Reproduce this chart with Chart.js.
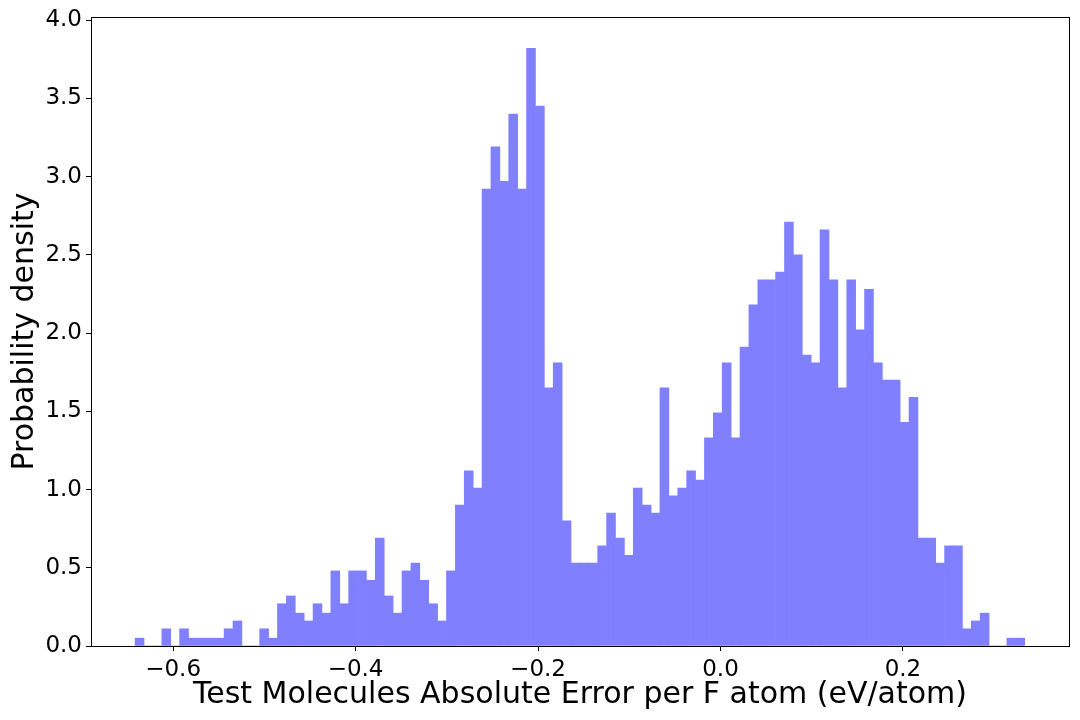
<!DOCTYPE html>
<html>
<head>
<meta charset="utf-8">
<script src="https://cdn.jsdelivr.net/npm/chart.js@4"></script>
<style>
  html, body { margin: 0; padding: 0; background: #fff; }
  #wrap { width: 1080px; height: 720px; }
</style>
</head>
<body>
<div id="wrap"><canvas id="chart" width="1080" height="720"></canvas></div>
<script>
// Histogram of per-F-atom errors, 100 equal bins
const binLeft = -0.6416;
const binWidth = 0.00975;

const density = [
  0.05, 0, 0, 0.11, 0, 0.11, 0.05, 0.05, 0.05, 0.05,
  0.11, 0.16, 0, 0, 0.11, 0.05, 0.27, 0.32, 0.21, 0.16,
  0.27, 0.21, 0.48, 0.27, 0.48, 0.48, 0.42, 0.69, 0.32, 0.21,
  0.48, 0.53, 0.42, 0.27, 0.16, 0.48, 0.90, 1.12, 1.01, 2.92,
  3.19, 2.97, 3.40, 2.92, 3.82, 3.45, 1.65, 1.81, 0.80, 0.53,
  0.53, 0.53, 0.64, 0.85, 0.69, 0.58, 1.01, 0.90, 0.85, 1.65,
  0.96, 1.01, 1.12, 1.06, 1.33, 1.49, 1.81, 1.33, 1.91, 2.18,
  2.34, 2.34, 2.39, 2.71, 2.50, 1.86, 1.81, 2.66, 2.34, 1.65,
  2.34, 2.02, 2.28, 1.81, 1.70, 1.70, 1.43, 1.59, 0.69, 0.69,
  0.53, 0.64, 0.64, 0.11, 0.16, 0.21, 0, 0, 0.05, 0.05
];

const xTicks = [-0.6, -0.4, -0.2, 0.0, 0.2];
const yTicks = [0.0, 0.5, 1.0, 1.5, 2.0, 2.5, 3.0, 3.5, 4.0];

const xLabel = 'Test Molecules Absolute Error per F atom (eV/atom)';
const yLabel = 'Probability density';

const points = density.map((d, i) => ({ x: binLeft + (i + 0.5) * binWidth, y: d }));

const fmt = v => v.toFixed(1).replace('-', '\u2212');

// full box around the plot area, like matplotlib spines
const frame = {
  id: 'frame',
  afterDraw(chart) {
    const { ctx, chartArea: a } = chart;
    ctx.save();
    ctx.strokeStyle = '#000';
    ctx.lineWidth = 1;
    ctx.strokeRect(Math.round(a.left) + 0.5, Math.round(a.top) + 0.5,
      Math.round(a.right - a.left), Math.round(a.bottom - a.top));
    ctx.restore();
  },
};

Chart.defaults.font.family = "'DejaVu Sans', sans-serif";
Chart.defaults.color = '#000';

new Chart(document.getElementById('chart'), {
  type: 'bar',
  data: {
    datasets: [{
      data: points,
      backgroundColor: '#8080ff',
      borderWidth: 0,
      barPercentage: 1.0,
      categoryPercentage: 1.0,
    }],
  },
  options: {
    responsive: false,
    animation: false,
    events: [],
    layout: { padding: { top: 17, right: 11, left: 7, bottom: 0 } },
    plugins: { legend: { display: false }, tooltip: { enabled: false } },
    scales: {
      x: {
        type: 'linear',
        offset: false,
        min: -0.690,
        max: 0.382,
        afterBuildTicks: s => { s.ticks = xTicks.map(v => ({ value: v })); },
        afterFit: s => { s.height = 74; s.paddingLeft = 0; s.paddingRight = 0; },
        grid: { drawOnChartArea: false, drawTicks: true, tickLength: 5, color: '#000', offset: false },
        border: { display: false },
        ticks: {
          font: { size: 23 },
          padding: 5,
          maxRotation: 0,
          callback: v => fmt(v),
        },
        title: { display: true, text: xLabel, font: { size: 30 }, padding: { top: 0, bottom: 7 } },
      },
      y: {
        min: 0,
        max: 4.02,
        afterBuildTicks: s => { s.ticks = yTicks.map(v => ({ value: v })); },
        afterFit: s => { s.width = 84; s.paddingTop = 0; s.paddingBottom = 0; },
        grid: { drawOnChartArea: false, drawTicks: true, tickLength: 5, color: '#000' },
        border: { display: false },
        ticks: {
          font: { size: 23 },
          padding: 4,
          callback: v => fmt(v),
        },
        title: { display: true, text: yLabel, font: { size: 30 }, padding: { top: 0, bottom: 4 } },
      },
    },
  },
  plugins: [frame],
});
</script>
</body>
</html>
